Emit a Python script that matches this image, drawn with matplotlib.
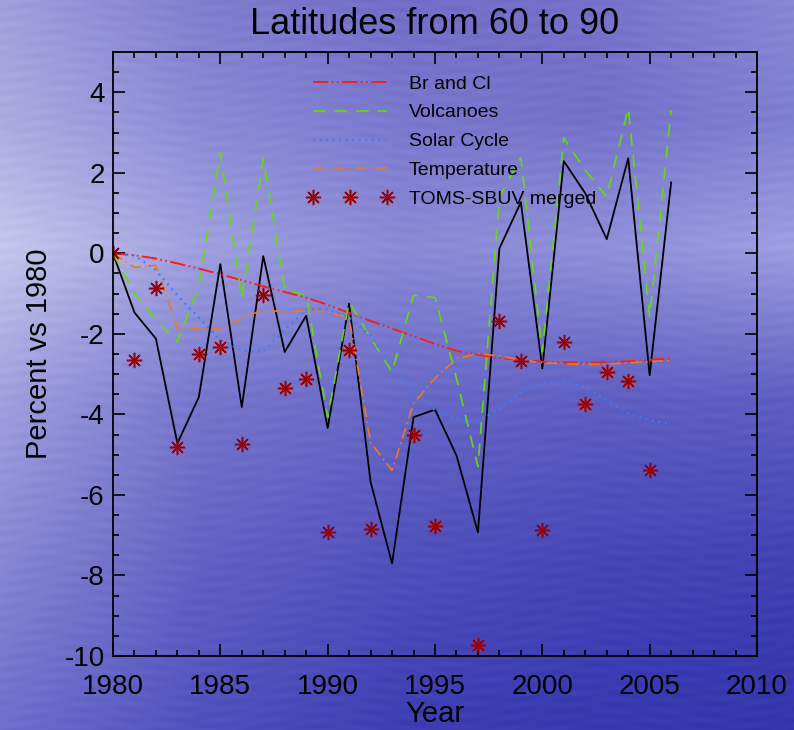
import matplotlib
matplotlib.use("Agg")
import matplotlib.pyplot as plt
import numpy as np

# ── Data
years = list(range(1980, 2007))

total = [0, -1.47, -2.12, -4.72, -3.57, -0.27, -3.82, -0.07, -2.45, -1.55,
         -4.34, -1.25, -5.68, -7.70, -4.07, -3.88, -5.02, -6.93, 0.12, 1.27,
         -2.86, 2.29, 1.49, 0.35, 2.36, -3.03, 1.76]
br_cl = [0, -0.05, -0.13, -0.25, -0.38, -0.52, -0.67, -0.82, -0.96, -1.10,
         -1.28, -1.48, -1.68, -1.87, -2.06, -2.25, -2.42, -2.52, -2.60, -2.65,
         -2.69, -2.71, -2.71, -2.70, -2.68, -2.65, -2.61]
volcanoes = [0, -1.00, -1.65, -2.20, -0.80, 2.49, -1.10, 2.35, -0.90, -1.05,
             -4.07, -1.21, -2.10, -2.95, -1.04, -1.10, -3.10, -5.30, 1.40, 2.38,
             -2.45, 2.86, 2.06, 1.40, 3.60, -1.58, 3.55]
solar = [0, -0.05, -0.42, -1.05, -1.60, -2.15, -2.41, -2.45, -1.90, -1.40,
         -1.38, -1.60, -2.04, -2.85, -3.40, -3.90, -4.10, -4.19, -3.85, -3.45,
         -3.22, -3.20, -3.32, -3.65, -3.98, -4.15, -4.23]
temperature = [0, -0.35, -0.30, -1.86, -1.87, -1.87, -1.62, -1.40, -1.46, -1.42,
               -1.46, -1.60, -4.70, -5.39, -3.73, -3.10, -2.62, -2.49, -2.55, -2.65,
               -2.72, -2.74, -2.76, -2.75, -2.72, -2.69, -2.66]
toms = [0, -2.64, -0.85, -4.81, -2.51, -2.33, -4.73, -1.04, -3.34, -3.13,
        -6.92, -2.41, -6.84, np.nan, -4.50, -6.77, np.nan, -9.72, -1.69, -2.68,
        -6.88, -2.20, -3.73, -2.96, -3.18, -5.39, np.nan]

x_ticks = [1980, 1985, 1990, 1995, 2000, 2005, 2010]
y_ticks = [-10, -8, -6, -4, -2, 0, 2, 4]

# ── Background colour grid (rows top->bottom, cols left->right)
bg_rows = [0, 120, 245, 400, 560, 730]
bg_cols = [0, 200, 400, 600, 794]
bg_grid = np.array([
    [(160, 160, 220), (128, 126, 206), (114, 110, 200), (118, 114, 204), (135, 135, 212)],
    [(172, 172, 226), (138, 138, 214), (122, 120, 206), (116, 113, 202), (128, 128, 210)],
    [(198, 198, 236), (160, 160, 224), (138, 138, 214), (144, 144, 218), (158, 158, 225)],
    [(160, 160, 222), (118, 118, 205), (104, 104, 199), (95, 95, 195), (94, 94, 194)],
    [(135, 135, 212), (98, 98, 195), (80, 80, 189), (70, 70, 184), (66, 66, 181)],
    [(110, 110, 204), (80, 80, 190), (62, 62, 180), (56, 56, 176), (52, 52, 172)],
], dtype=float) / 255.0


def background(w=794, h=730):
    xs, ys = np.arange(w), np.arange(h)
    # interpolate across columns, then down rows
    tmp = np.stack([[np.interp(xs, bg_cols, bg_grid[r, :, c]) for c in range(3)]
                    for r in range(len(bg_rows))])          # rows x 3 x w
    img = np.empty((h, w, 3))
    for c in range(3):
        for i in range(w):
            img[:, i, c] = np.interp(ys, bg_rows, tmp[:, c, i])
    # faint, irregular horizontal streaks (water look)
    X, Y = np.meshgrid(xs, ys)
    streak = (np.sin(2 * np.pi * Y / 11.3 + 3.1 * np.sin(2 * np.pi * X / 263))
              * np.sin(2 * np.pi * X / 97 + Y / 23.0))
    img += 0.014 * streak[..., None]
    return np.clip(img, 0, 1)


plt.rcParams["font.family"] = ["Liberation Sans", "DejaVu Sans"]
plt.rcParams["lines.scale_dashes"] = False
plt.rcParams["axes.unicode_minus"] = False

fig = plt.figure(figsize=(7.94, 7.30), dpi=100)
bg_ax = fig.add_axes([0, 0, 1, 1], zorder=-1)
bg_ax.imshow(background(), aspect="auto", interpolation="nearest", extent=[0, 1, 0, 1])
bg_ax.axis("off")

ax = fig.add_axes([0.1423, 0.1014, 0.8111, 0.8274])
ax.patch.set_alpha(0)

ax.plot(years, total, color="black", lw=1.3)
ax.plot(years, br_cl, color="#ff1a1a", lw=1.4, dashes=(11, 2.5, 1.2, 2.5, 1.2, 2.5),
        label="Br and Cl")
ax.plot(years, volcanoes, color="#66dd00", lw=1.2, dashes=(9, 6.5), label="Volcanoes")
ax.plot(years, solar, color="#3a7dff", lw=1.7, dashes=(1.3, 3.4), label="Solar Cycle")
ax.plot(years, temperature, color="#f07a18", lw=1.2, dashes=(8, 3, 1.2, 3),
        label="Temperature")
ax.plot(years, toms, linestyle="none", marker=(8, 2, 0), markersize=11, mew=1.1,
        color="#9a0000", label="TOMS-SBUV merged")

ax.set_xlim(1980, 2010)
ax.set_ylim(-10, 5)
ax.set_xticks(x_ticks)
ax.set_yticks(y_ticks)
ax.set_xticks(range(1980, 2011), minor=True)
ax.set_yticks(np.arange(-10, 5.01, 0.5), minor=True)
ax.tick_params(which="both", direction="in", top=True, right=True, width=1.2,
               labelsize=20, colors="black")
ax.tick_params(which="major", length=8.6)
ax.tick_params(which="minor", length=4.3)
ax.tick_params(axis="x", pad=13)
ax.tick_params(axis="y", pad=6)
for s in ax.spines.values():
    s.set_linewidth(1.3)

ax.set_ylabel("Percent vs 1980", fontsize=21, labelpad=8)
ax.set_xlabel("Year", fontsize=21, labelpad=0)
fig.text(435 / 794, 1 - 24 / 730, "Latitudes from 60 to 90", fontsize=26,
         ha="center", va="center")

ax.legend(loc="upper left", bbox_to_anchor=(0.301, 0.962), frameon=False,
          fontsize=14, handlelength=4.4, handletextpad=0.85, numpoints=3,
          labelspacing=0.58, borderpad=0, borderaxespad=0)

fig.savefig("out.png", dpi=100)
